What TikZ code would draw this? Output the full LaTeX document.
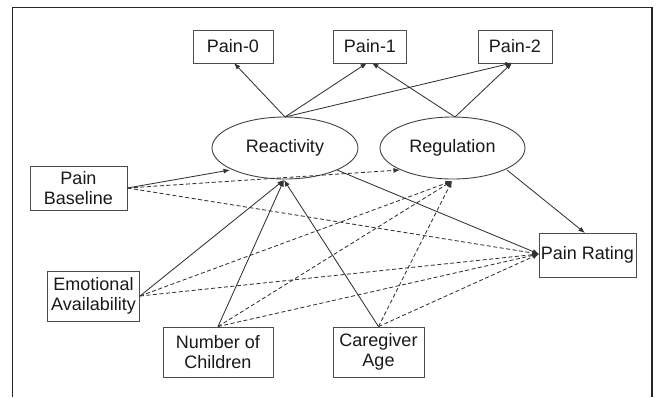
\documentclass[tikz,border=0pt]{standalone}
\usepackage{fontspec}
\setmainfont{Liberation Sans}
\usetikzlibrary{arrows.meta,shapes.geometric}
\begin{document}
\begin{tikzpicture}[x=1pt,y=-1pt,
  box/.style={draw=black!70,line width=0.9pt,inner sep=0pt,align=center,font=\fontsize{18}{20.5}\selectfont,text=black!90},
  lat/.style={draw=black!75,line width=0.9pt,ellipse,inner sep=0pt,font=\fontsize{18}{20.5}\selectfont,text=black!90},
  arr/.style={draw=black!80,line width=0.85pt,-{Latex[length=6.5pt,width=5pt]}},
  darr/.style={arr,dash pattern=on 4pt off 2.5pt}]
\useasboundingbox (0,0) rectangle (657,397);
\draw[line width=1.4pt,black!85] (12.5,397) -- (12.5,7.5) -- (652,7.5) -- (652,397);

\node[box,minimum width=80pt,minimum height=33pt] (p0) at (233,46.5) {Pain-0};
\node[box,minimum width=73pt,minimum height=33pt] (p1) at (370,46.5) {Pain-1};
\node[box,minimum width=74pt,minimum height=33pt] (p2) at (515,46.5) {Pain-2};
\node[lat,minimum width=146pt,minimum height=62pt] (re) at (285,148) {Reactivity};
\node[lat,minimum width=145pt,minimum height=62pt] (rg) at (452.5,148) {Regulation};
\node[box,minimum width=97pt,minimum height=44pt] (pb) at (78.5,188) {Pain\\Baseline};
\node[box,minimum width=92pt,minimum height=50pt] (ea) at (93.5,296) {Emotional\\Availability};
\node[box,minimum width=110pt,minimum height=50pt] (nc) at (218,352) {Number of\\Children};
\node[box,minimum width=91pt,minimum height=50pt] (ca) at (378.5,352) {Caregiver\\Age};
\node[box,minimum width=97pt,minimum height=44pt] (pr) at (587.5,255) {Pain Rating};

\coordinate (reT) at (285,117);
\coordinate (rgT) at (455,117);
\coordinate (reB) at (284,180);
\coordinate (rgB) at (452,181);
\coordinate (reL) at (230,170);
\coordinate (reR) at (337,170);
\coordinate (rgL) at (400,170);
\coordinate (rgR) at (507,170);
\coordinate (p0B) at (234,63);
\coordinate (p1Ba) at (367,63);
\coordinate (p1Bb) at (372,63);
\coordinate (p2B) at (512,63);
\coordinate (prL) at (539,254);
\coordinate (prT) at (585,233);

\draw[arr] (reT) -- (p0B);
\draw[arr] (reT) -- (p1Ba);
\draw[arr] (reT) -- (p2B);
\draw[arr] (rgT) -- (p1Bb);
\draw[arr] (rgT) -- (p2B);

\draw[arr] (pb.east) -- (reL);
\draw[arr] (ea.east) -- (reB);
\draw[arr] (nc.north) -- (reB);
\draw[arr] (ca.north) -- (reB);
\draw[arr] (reR) -- (prL);
\draw[arr] (rgR) -- (prT);

\draw[darr] (pb.east) -- (rgL);
\draw[darr] (pb.east) -- (prL);
\draw[darr] (ea.east) -- (rgB);
\draw[darr] (ea.east) -- (prL);
\draw[darr] (nc.north) -- (rgB);
\draw[darr] (nc.north) -- (prL);
\draw[darr] (ca.north) -- (rgB);
\draw[darr] (ca.north) -- (prL);
\end{tikzpicture}
\end{document}
